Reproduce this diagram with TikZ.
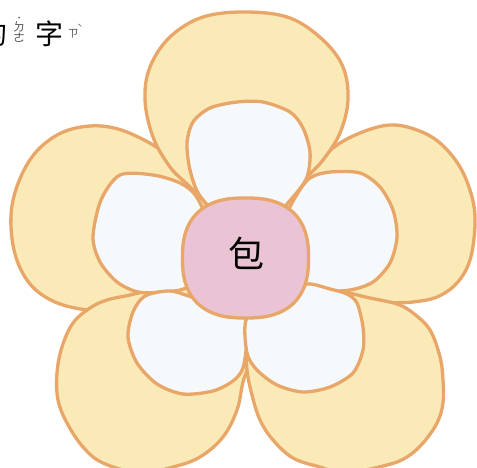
\documentclass[tikz,border=0pt]{standalone}
\usepackage{fontspec}
\newfontfamily\cjk{Noto Sans CJK TC}
\definecolor{petalyellow}{RGB}{250,234,183}
\definecolor{petaledge}{RGB}{232,166,104}
\definecolor{innerwhite}{RGB}{246,249,251}
\definecolor{centerpink}{RGB}{234,196,213}
\definecolor{zhuyin}{RGB}{80,80,80}
\tikzset{
  outerpetal/.style={fill=petalyellow, draw=petaledge, line width=3.3pt, line join=round},
  innerpetal/.style={fill=innerwhite, draw=petaledge, line width=3.3pt, line join=round},
  centerdisc/.style={fill=centerpink, draw=petaledge, line width=3.3pt},
  bigchar/.style={font=\cjk\fontsize{28}{30}\selectfont, text=black, inner sep=0pt},
  zy/.style={font=\cjk\fontsize{12}{13}\selectfont, text=zhuyin, inner sep=0pt}
}
\begin{document}
\begin{tikzpicture}[x=1pt,y=-1pt]
\useasboundingbox (0,0) rectangle (477,468);
\clip (0,0) rectangle (477,468);
\coordinate (tip) at (246,256);
% outer petals
\filldraw[outerpetal] (tip) -- (220,195) -- plot[smooth, tension=0.6] coordinates {(172,158) (148,142) (118,129) (90,126) (61,133) (36,152) (19,181) (11,215) (15,254) (30,284) (55,302) (88,310) (115,308)} -- (150,300) -- cycle;
\filldraw[outerpetal] (tip) -- plot[smooth, tension=0.6] coordinates {(288,198) (310,172) (333,148) (360,133) (390,125) (417,130) (440,143) (460,167) (472,197) (475,225) (470,260) (457,283) (437,297) (413,302) (393,303) (370,304)} -- (340,300) -- cycle;
\filldraw[outerpetal] (tip) -- plot[smooth, tension=0.6] coordinates {(150,290) (130,295) (107,300) (90,308) (73,323) (62,347) (57,373) (58,400) (67,423) (83,447) (103,463) (140,473) (173,467) (200,457) (223,437) (237,410) (243,382) (250,360) (252,330)} -- cycle;
\filldraw[outerpetal] (tip) -- plot[smooth, tension=0.6] coordinates {(345,292) (370,298) (397,304) (413,313) (430,330) (440,357) (443,380) (443,403) (437,423) (423,443) (407,457) (387,465) (345,473) (320,467) (293,458) (273,440) (260,420) (252,395) (247,370) (246,340)} -- cycle;
\filldraw[outerpetal] (tip) -- plot[smooth, tension=0.6] coordinates {(203,200) (188,185) (170,167) (153,137) (145,100) (150,67) (170,37) (203,17) (247,12) (290,18) (323,40) (343,67) (348,100) (340,133) (323,160) (307,177) (290,197)} -- cycle;
% inner petals
\filldraw[innerpetal] plot[smooth cycle] coordinates {(225,218) (200,196) (190,170) (187,143) (193,122) (210,108) (237,102) (263,102) (290,112) (303,128) (310,152) (307,177) (293,197) (270,218)};
\filldraw[innerpetal] plot[smooth cycle] coordinates {(208,225) (196,196) (180,183) (153,175) (120,175) (101,200) (93,237) (100,262) (117,282) (138,292) (163,292) (186,288) (208,270)};
\filldraw[innerpetal] plot[smooth cycle] coordinates {(283,225) (296,196) (310,178) (330,172) (360,173) (380,187) (393,210) (397,237) (390,263) (373,282) (350,290) (320,291) (305,286) (283,270)};
\filldraw[innerpetal] plot[smooth cycle] coordinates {(225,302) (196,298) (170,291) (145,296) (133,312) (128,337) (137,363) (157,384) (183,394) (213,391) (233,381) (243,368) (247,340) (246,318)};
\filldraw[innerpetal] plot[smooth cycle] coordinates {(265,302) (246,320) (247,353) (257,370) (277,385) (303,392) (330,387) (353,373) (363,350) (363,327) (357,303) (347,294) (330,289) (307,284) (290,296)};
% centre
\filldraw[centerdisc] plot[domain=0:356, samples=90, smooth cycle, variable=\t] ({245.5+63*sign(cos(\t))*(abs(cos(\t))+0.0001)^0.8}, {258+60*sign(sin(\t))*(abs(sin(\t))+0.0001)^0.8});
\node[bigchar, font=\cjk\fontsize{36}{38}\selectfont] (bao) at (246,253) {包};
% heading text (cut at the left edge, as in the reference)
\node[bigchar] (de) at (-6,34) {的};
\node[zy, font=\cjk\fontsize{9}{10}\selectfont] (dedot) at (19,19) {˙};
\node[zy] (dede1) at (19,27) {ㄉ};
\node[zy] (dede2) at (19,38) {ㄜ};
\node[bigchar] (zi) at (49,34) {字};
\node[zy, font=\cjk\fontsize{11}{12}\selectfont] (zizy) at (73,34) {ㄗ};
\node[zy, font=\cjk\fontsize{9}{10}\selectfont] (zitone) at (80,28) {ˋ};
\end{tikzpicture}
\end{document}
